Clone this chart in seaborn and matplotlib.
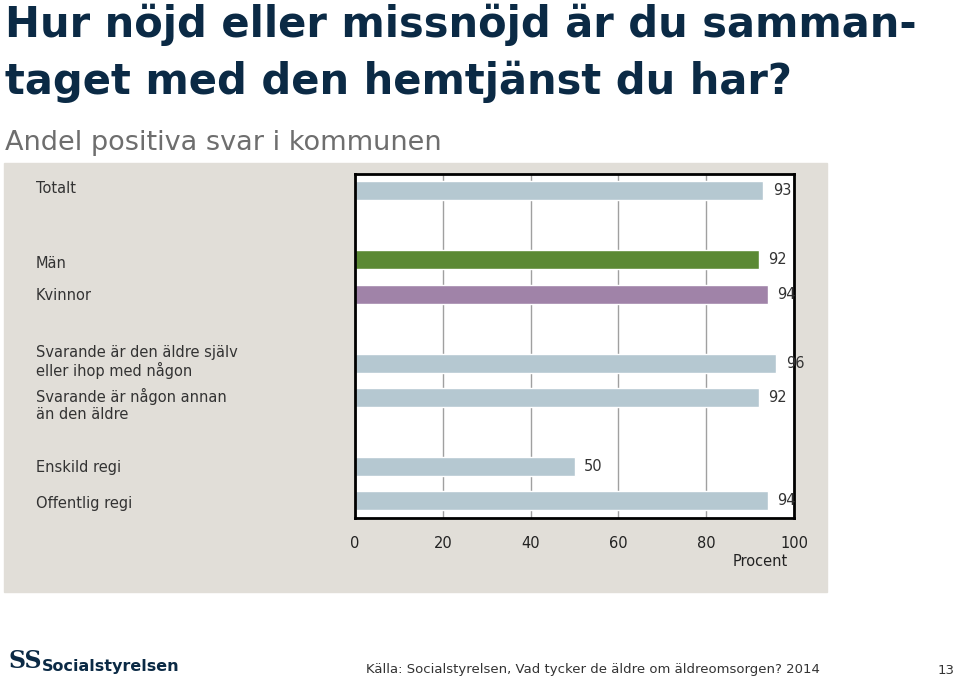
import matplotlib
matplotlib.use("Agg")
import matplotlib.pyplot as plt
import matplotlib.patches as mpatches
import matplotlib.transforms as mtransforms
import seaborn as sns
import pandas as pd

# data
kategorier = ["Totalt", "", "Män", "Kvinnor", " ",
              "Svarande är den äldre själv\neller ihop med någon",
              "Svarande är någon annan\nän den äldre", "  ",
              "Enskild regi", "Offentlig regi"]
andel = [93, None, 92, 94, None, 96, 92, None, 50, 94]
farger = ["#B5C8D1", "#FFFFFF", "#5B8934", "#A083A8", "#FFFFFF",
          "#B5C8D1", "#B5C8D1", "#FFFFFF", "#B5C8D1", "#B5C8D1"]
xticks = [0, 20, 40, 60, 80, 100]

df = pd.DataFrame({"kategori": kategorier, "andel": andel})

sns.set_theme(style="white")
plt.rcParams['font.family'] = ['DejaVu Sans']

fig = plt.figure(figsize=(9.6, 6.81), dpi=100)

# grå bakgrundspanel
panel = mpatches.Rectangle((4 / 960, 1 - 592 / 681), 823 / 960, 429 / 681,
                           transform=fig.transFigure, color="#E1DED8", zorder=-10)
fig.patches.append(panel)

ax = fig.add_axes([355 / 960, 1 - 518 / 681, 439 / 960, 344 / 681])
ax.set_facecolor("white")

palett = {k: f for k, f in zip(kategorier, farger)}
sns.barplot(data=df, x="andel", y="kategori", hue="kategori", order=kategorier,
            palette=palett, legend=False, width=0.55, ax=ax, saturation=1)

for c in ax.containers:
    ax.bar_label(c, fmt="%g", padding=7, fontsize=10.5, color="#333333",
                 family="DejaVu Sans")

ax.set_xlim(0, 100)
ax.set_ylim(9.5, -0.49)
ax.set_xticks(xticks)
ax.set_xticklabels([str(t) for t in xticks], fontsize=10.5, color="#222222")
ax.tick_params(axis="x", length=0, pad=13)
ax.xaxis.grid(True, color="#A0A0A0", linewidth=1)
ax.set_axisbelow(True)

ax.set_yticks(range(len(kategorier)))
ax.set_yticklabels(kategorier, fontsize=10.5, color="#333333", ha="left",
                   linespacing=1.15)
ax.tick_params(axis="y", length=0, pad=230)

# små vertikala justeringar av etiketterna (pixlar, positivt = uppåt)
forskjut = {0: 4, 2: -2, 5: 4, 6: -5, 9: -1}
for i, lab in enumerate(ax.get_yticklabels()):
    if i in forskjut:
        off = mtransforms.ScaledTranslation(0, forskjut[i] / 100, fig.dpi_scale_trans)
        lab.set_transform(lab.get_transform() + off)

ax.set_xlabel("")
ax.set_ylabel("")
ax.text(0.985, -0.125, "Procent", transform=ax.transAxes, ha="right", va="center",
        fontsize=10.5, color="#222222")

for s in ax.spines.values():
    s.set_visible(True)
    s.set_color("black")
    s.set_linewidth(2)

# rubriker
fig.text(5 / 960, 1 - 4 / 681, "Hur nöjd eller missnöjd är du samman-\ntaget med den hemtjänst du har?",
         ha="left", va="top", fontsize=30, fontweight="bold", color="#0B2A45",
         linespacing=1.42)
fig.text(5 / 960, 1 - 143 / 681, "Andel positiva svar i kommunen", ha="left", va="center",
         fontsize=19.5, color="#6E6E6E")

# sidfot
fig.text(8 / 960, 1 - 661 / 681, "SS", ha="left", va="center", fontsize=17,
         fontweight="bold", color="#0B2A45", family="DejaVu Serif")
fig.text(42 / 960, 1 - 667 / 681, "Socialstyrelsen", ha="left", va="center",
         fontsize=11.5, fontweight="bold", color="#0B2A45")
fig.text(366 / 960, 1 - 670 / 681,
         "Källa: Socialstyrelsen, Vad tycker de äldre om äldreomsorgen? 2014",
         ha="left", va="center", fontsize=9.5, color="#333333")
fig.text(955 / 960, 1 - 670 / 681, "13", ha="right", va="center", fontsize=9.5,
         color="#333333")

fig.savefig("out.png", dpi=100)
